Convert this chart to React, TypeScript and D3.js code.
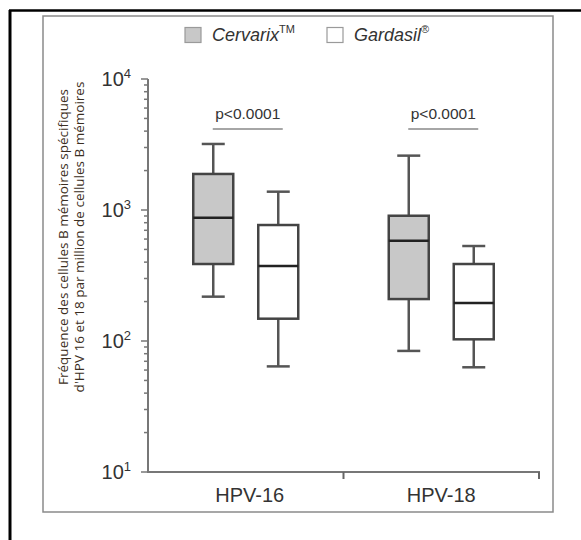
import React from 'react'
import * as d3 from 'd3';

const categories = ['HPV-16', 'HPV-18'];
const vaccines = ['Cervarix', 'Gardasil'];
// min, q1, median, q3, max for each category
const cervarix = [[218, 387, 873, 1884, 3192], [84, 209, 583, 904, 2600]];
const gardasil = [[64, 148, 374, 768, 1380], [63, 103, 195, 387, 531]];
const pValues = ['p<0.0001', 'p<0.0001'];
const yDecades = [10, 100, 1000, 10000];
const yLabel = ['Fréquence des cellules B mémoires spécifiques', "d'HPV 16 et 18 par million de cellules B mémoires"];

const fills = ['#c8c8c8', '#ffffff'];

const BoxPlot = ({ cx, stats, fill }: { cx: number, stats: number[], fill: string }) => {
  const y = yScale;
  const [mn, q1, med, q3, mx] = stats;
  const w = 40;
  const cap = 23;
  return (
    <g>
      <line x1={cx} x2={cx} y1={y(mx)} y2={y(q3)} stroke='#555' strokeWidth={2.5} />
      <line x1={cx} x2={cx} y1={y(q1)} y2={y(mn)} stroke='#555' strokeWidth={2.5} />
      <line x1={cx - cap / 2} x2={cx + cap / 2} y1={y(mx)} y2={y(mx)} stroke='#555' strokeWidth={2.5} />
      <line x1={cx - cap / 2} x2={cx + cap / 2} y1={y(mn)} y2={y(mn)} stroke='#555' strokeWidth={2.5} />
      <rect x={cx - w / 2} y={y(q3)} width={w} height={y(q1) - y(q3)} fill={fill} stroke='#444' strokeWidth={2.5} />
      <line x1={cx - w / 2} x2={cx + w / 2} y1={y(med)} y2={y(med)} stroke='#222' strokeWidth={2.5} />
    </g>
  )
}

const yScale = d3.scaleLog().domain([10, 10000]).range([472, 79]);
const xScale = d3.scaleBand().domain(categories).range([148, 539]).paddingInner(0).paddingOuter(0);

const App = () => {
  const ticks = yScale.ticks();
  const half = 32.5;

  return (
    <svg width={581} height={540} style={{ position: 'absolute', left: 0, top: 0 }} fontFamily="'Liberation Sans', Arial, sans-serif">
      <rect x={0} y={0} width={581} height={540} fill='#fff' />
      {/* outer frame */}
      <line x1={10} x2={10} y1={10} y2={540} stroke='#000' strokeWidth={3} />
      <line x1={9} x2={581} y1={10.5} y2={10.5} stroke='#000' strokeWidth={2.5} />
      {/* inner frame */}
      <rect x={43} y={16} width={510} height={496} fill='none' stroke='#8a8a8a' strokeWidth={1.5} />

      {/* legend */}
      {vaccines.map((v, i) => {
        const lx = i === 0 ? 185 : 327;
        return (
          <g key={v}>
            <rect x={lx} y={27.5} width={16} height={15} fill={fills[i]} stroke='#9a9a9a' strokeWidth={1.2} />
            <text x={lx + 27} y={41} fontSize={18} fontStyle='italic' fill='#333'>
              {v}
              <tspan fontSize={11} dy={-8} fontStyle='normal'>{i === 0 ? 'TM' : '®'}</tspan>
            </text>
          </g>
        )
      })}

      {/* y label */}
      {yLabel.map((t, i) => (
        <text key={i} transform={`translate(${68 + i * 16},237) rotate(-90)`} textAnchor='middle' fontSize={13.5}
          fontFamily="'Open Sans', 'Noto Sans', sans-serif" fill='#3b2e22'>{t}</text>
      ))}

      {/* y axis */}
      <line x1={148} x2={148} y1={yScale(10000)} y2={yScale(10) + 1} stroke='#777' strokeWidth={2} />
      {ticks.map((t, i) => {
        const major = Math.abs(Math.log10(t) - Math.round(Math.log10(t))) < 1e-9;
        return <line key={i} x1={major ? 141 : 144} x2={148} y1={yScale(t)} y2={yScale(t)} stroke='#777' strokeWidth={1.5} />
      })}
      {yDecades.map((d) => (
        <text key={d} x={131} y={yScale(d) + 7} textAnchor='end' fontSize={20} fill='#333'>
          10<tspan fontSize={13} dy={-8}>{Math.round(Math.log10(d))}</tspan>
        </text>
      ))}

      {/* x axis */}
      <line x1={147} x2={540} y1={472} y2={472} stroke='#777' strokeWidth={2} />
      {categories.map((c) => {
        const x1 = (xScale(c) as number) + xScale.bandwidth();
        return <line key={c} x1={x1} x2={x1} y1={472} y2={479} stroke='#666' strokeWidth={2} />
      })}
      {categories.map((c, i) => (
        <text key={c} x={(xScale(c) as number) + xScale.bandwidth() / 2 + (i === 0 ? 4 : 0)} y={502} textAnchor='middle' fontSize={20} fill='#333'>{c}</text>
      ))}

      {/* boxes */}
      {categories.map((c, i) => {
        const cx = (xScale(c) as number) + xScale.bandwidth() / 2;
        return (
          <g key={c}>
            <BoxPlot cx={cx - half} stats={cervarix[i]} fill={fills[0]} />
            <BoxPlot cx={cx + half} stats={gardasil[i]} fill={fills[1]} />
            <text x={cx + 2} y={119} textAnchor='middle' fontSize={15.5} fill='#333'>{pValues[i]}</text>
            <line x1={cx - 33} x2={cx + 37} y1={129} y2={129} stroke='#888' strokeWidth={1.5} />
          </g>
        )
      })}
    </svg>
  )
}

export default App
